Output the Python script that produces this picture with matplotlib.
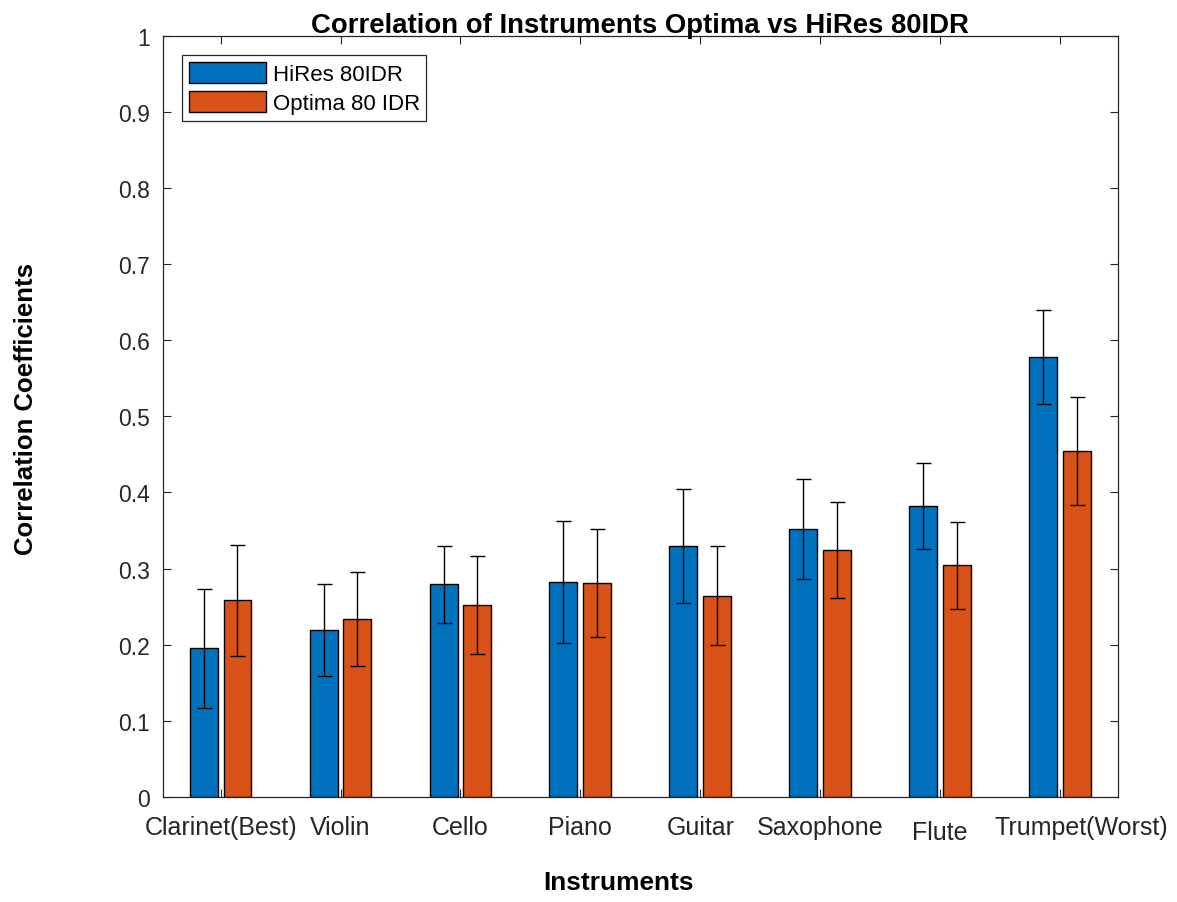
import matplotlib
matplotlib.use("Agg")
import matplotlib.pyplot as plt
import matplotlib.transforms as mtransforms
import numpy as np

# data
instruments = ["Clarinet(Best)", "Violin", "Cello", "Piano", "Guitar",
               "Saxophone", "Flute", "Trumpet(Worst)"]
hires = [0.195, 0.219, 0.279, 0.282, 0.329, 0.352, 0.382, 0.578]
hires_err = [0.078, 0.060, 0.051, 0.080, 0.075, 0.066, 0.057, 0.062]
optima = [0.258, 0.234, 0.252, 0.281, 0.264, 0.324, 0.304, 0.455]
optima_err = [0.073, 0.062, 0.064, 0.071, 0.065, 0.063, 0.057, 0.071]

blue = "#0072BD"
orange = "#D95319"
dark = "#262626"

plt.rcParams['font.family'] = ['Liberation Sans', 'DejaVu Sans']

fig = plt.figure(figsize=(11.77, 9.03), dpi=100)
ax = fig.add_axes([0.1385, 0.1166, 0.8111, 0.8424])

x = np.arange(1, len(instruments) + 1)
w = 0.233
off = 0.141

ax.bar(x - off, hires, w, color=blue, edgecolor="black", linewidth=1, label="HiRes 80IDR")
ax.bar(x + off, optima, w, color=orange, edgecolor="black", linewidth=1, label="Optima 80 IDR")
ax.errorbar(x - off, hires, yerr=hires_err, fmt="none", ecolor="black",
            elinewidth=1, capsize=5.4, capthick=1)
ax.errorbar(x + off, optima, yerr=optima_err, fmt="none", ecolor="black",
            elinewidth=1, capsize=5.4, capthick=1)

ax.set_xlim(0.52, 8.48)
ax.set_ylim(0, 1)
ax.set_yticks(np.arange(0, 1.01, 0.1))
ax.set_yticklabels(["0"] + [f"{v:.1f}" for v in np.arange(0.1, 0.95, 0.1)] + ["1"])
ax.set_xticks(x)
ax.set_xticklabels(instruments, fontsize=18)

ax.tick_params(axis="both", direction="in", length=6, width=0.8, colors=dark,
               top=True, right=True)
ax.tick_params(axis="y", labelsize=16.5, pad=9.5)
ax.tick_params(axis="x", pad=13)
for s in ax.spines.values():
    s.set_color(dark)
    s.set_linewidth(0.9)

# the last two labels sit a bit off in the original
labels = ax.get_xticklabels()
labels[6].set_transform(labels[6].get_transform() +
                        mtransforms.ScaledTranslation(0, -0.05, fig.dpi_scale_trans))
labels[7].set_transform(labels[7].get_transform() +
                        mtransforms.ScaledTranslation(0.21, 0, fig.dpi_scale_trans))

ax.set_title("Correlation of Instruments Optima vs HiRes 80IDR", fontsize=19.8,
             fontweight="bold", pad=3)
ax.set_ylabel("Correlation Coefficients", fontsize=18.5, fontweight="bold")
ax.yaxis.set_label_coords(-0.131, 0.511)
ax.set_xlabel("Instruments", fontsize=18.9, fontweight="bold")
ax.xaxis.set_label_coords(0.477, -0.097)

leg = ax.legend(loc="upper left", fontsize=16, handlelength=3.47, handleheight=1.08,
                fancybox=False, edgecolor=dark, framealpha=1,
                borderaxespad=0.86, borderpad=0.3, labelspacing=0.27, handletextpad=0.3)
leg.get_frame().set_linewidth(0.9)

fig.savefig("out.png", dpi=100)
